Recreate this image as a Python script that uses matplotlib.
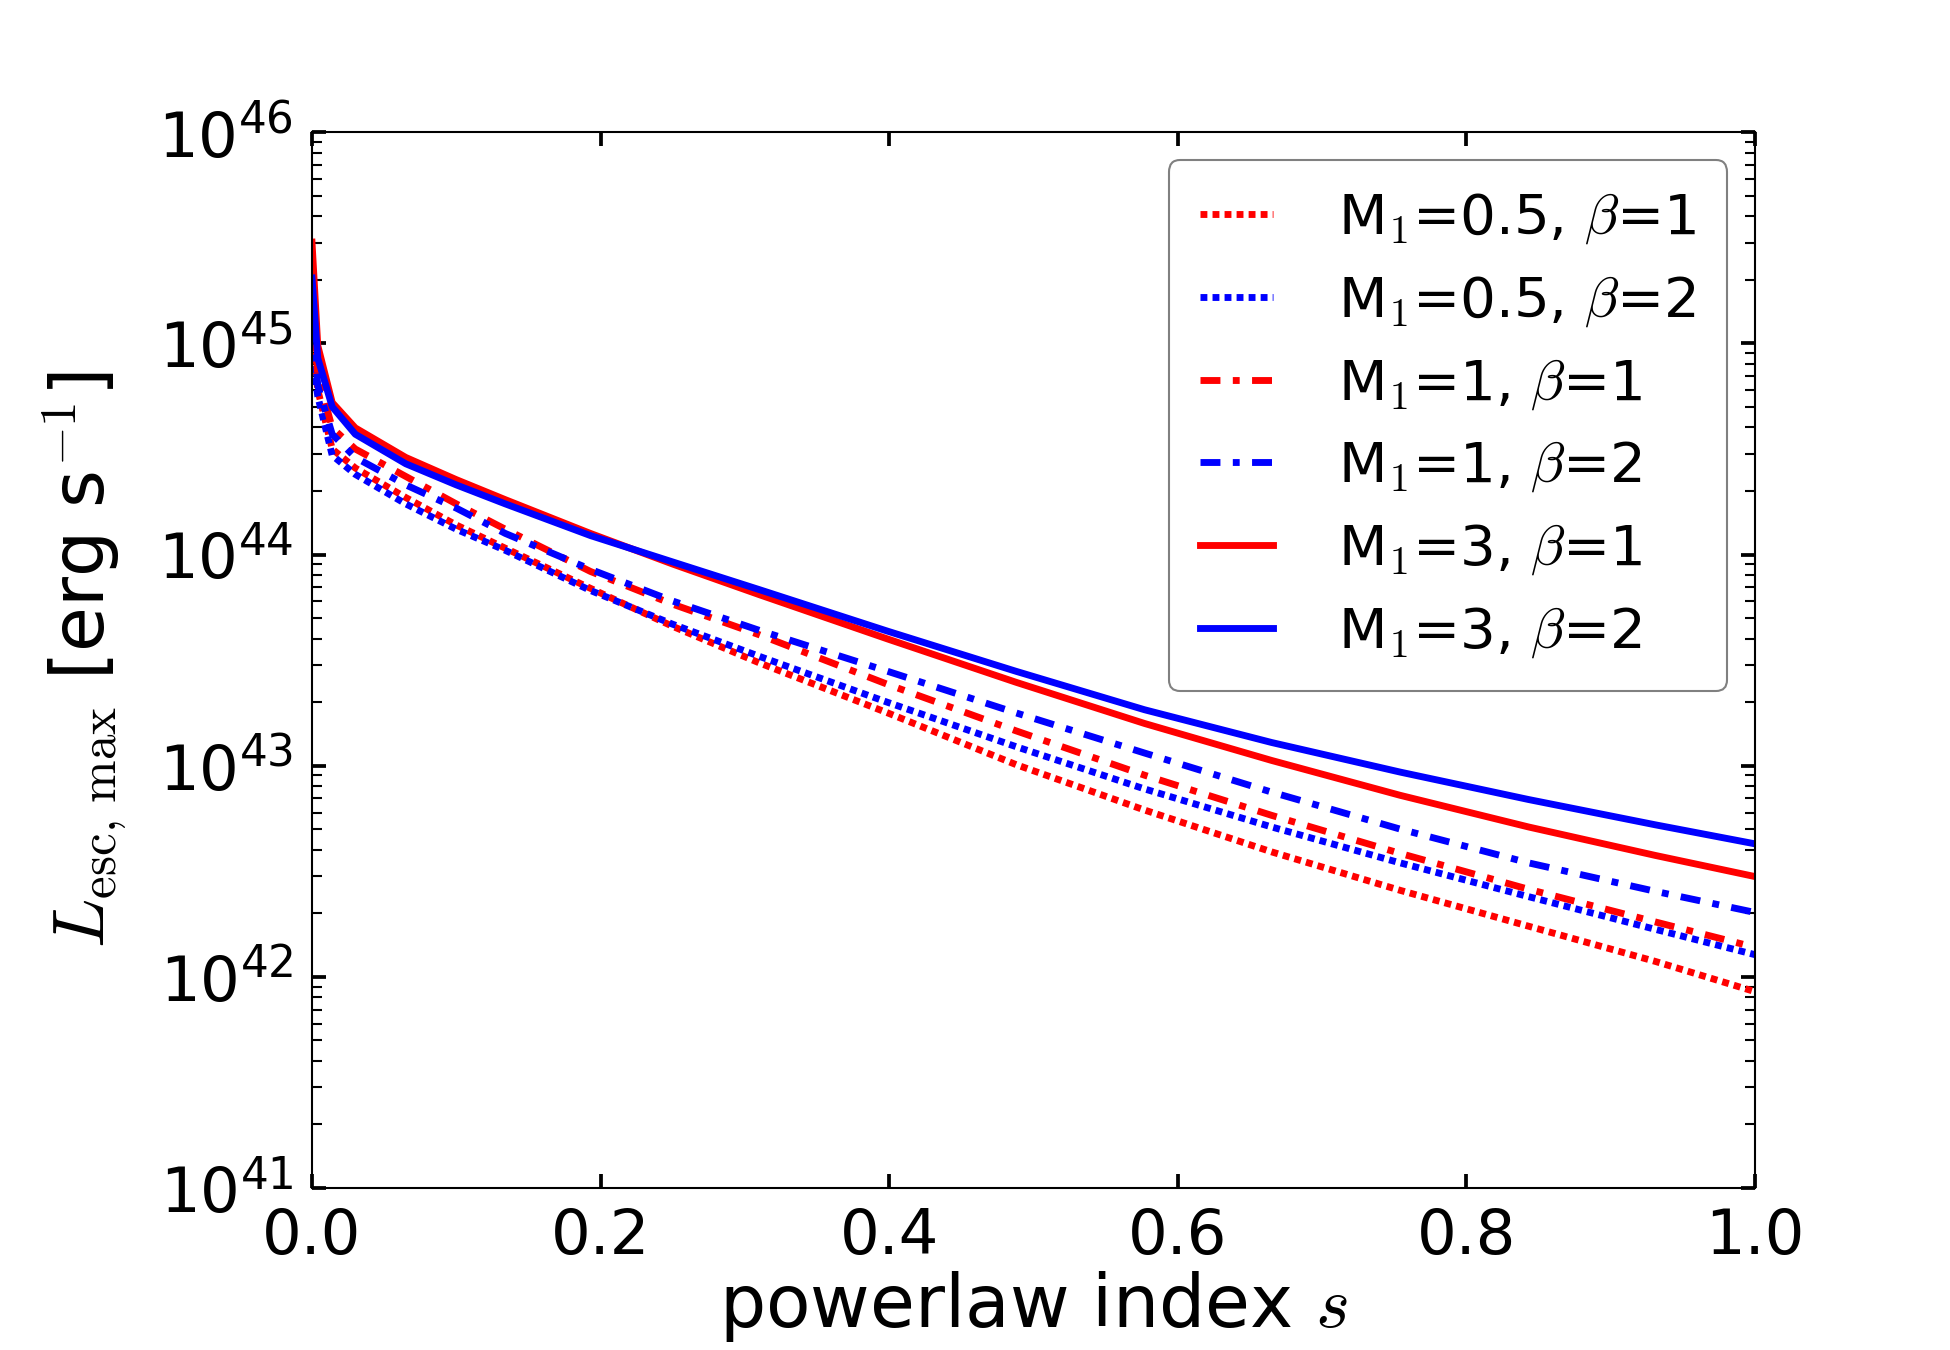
import numpy as np
import matplotlib
matplotlib.use('Agg')
import matplotlib.pyplot as plt

plt.rcParams['mathtext.fontset'] = 'cm'
plt.rcParams['font.family'] = 'DejaVu Sans'

# powerlaw index s and log10 of L_esc,max
s = [0.0, 0.004, 0.014, 0.03, 0.065, 0.1, 0.134, 0.193, 0.25, 0.31, 0.399,
     0.488, 0.577, 0.665, 0.754, 0.843, 0.931, 1.0]
logL_m05_b1 = [45.05, 44.78, 44.50, 44.41, 44.27, 44.14, 44.03, 43.84, 43.66,
               43.487, 43.25, 43.005, 42.79, 42.592, 42.41, 42.24, 42.073,
               41.93]
logL_m05_b2 = [44.95, 44.75, 44.47, 44.38, 44.24, 44.12, 44.02, 43.83, 43.67,
               43.518, 43.30, 43.09, 42.89, 42.71, 42.54, 42.38, 42.225,
               42.105]
logL_m1_b1 = [45.20, 44.85, 44.60, 44.50, 44.37, 44.24, 44.12, 43.92, 43.765,
              43.62, 43.385, 43.165, 42.955, 42.765, 42.585, 42.415, 42.26,
              42.14]
logL_m1_b2 = [45.10, 44.80, 44.57, 44.46, 44.33, 44.22, 44.10, 43.93, 43.78,
              43.641, 43.447, 43.25, 43.06, 42.875, 42.70, 42.54, 42.405,
              42.305]
logL_m3_b1 = [45.48, 44.99, 44.72, 44.60, 44.46, 44.355, 44.26, 44.10, 43.955,
              43.81, 43.60, 43.395, 43.20, 43.025, 42.86, 42.71, 42.575,
              42.475]
logL_m3_b2 = [45.31, 44.93, 44.70, 44.57, 44.43, 44.33, 44.24, 44.09, 43.965,
              43.834, 43.637, 43.447, 43.265, 43.11, 42.97, 42.84, 42.72,
              42.63]

labels = [r'M$_1$=0.5, $\beta$=1', r'M$_1$=0.5, $\beta$=2',
          r'M$_1$=1, $\beta$=1', r'M$_1$=1, $\beta$=2',
          r'M$_1$=3, $\beta$=1', r'M$_1$=3, $\beta$=2']
series = [logL_m05_b1, logL_m05_b2, logL_m1_b1, logL_m1_b2,
          logL_m3_b1, logL_m3_b2]
colors = ['red', 'blue'] * 3
dot = (1.0, 0.75)
dashdot = (2.9, 1.8, 1.0, 1.8)
styles = [dot, dot, dashdot, dashdot, None, None]

fig = plt.figure(figsize=(13, 9), dpi=150)
ax = fig.add_axes([0.16, 0.12, 0.74, 0.782])

for logL, c, ds, lab in zip(series, colors, styles, labels):
    line, = ax.plot(s, 10 ** np.array(logL), color=c, lw=3.3, label=lab)
    if ds is not None:
        line.set_dashes(ds)

ax.set_yscale('log')
ax.set_xlim(0, 1)
ax.set_ylim(1e41, 1e46)
ax.set_xticks(np.arange(0, 1.01, 0.2))
ax.xaxis.set_major_formatter(plt.FormatStrFormatter('%.1f'))

ax.tick_params(which='both', direction='in', top=True, right=True)
ax.tick_params(which='major', length=6.7, width=1.8, labelsize=30, pad=9)
ax.tick_params(which='minor', length=4.8, width=1.0)
ax.tick_params(axis='x', which='minor', bottom=False, top=False)
for sp in ax.spines.values():
    sp.set_linewidth(1.0)

ax.set_xlabel(r'powerlaw index $s$', fontsize=35, labelpad=1)
ax.set_ylabel(r'$L_{\rm esc,\,max}$ [erg s$^{-1}$]', fontsize=35, labelpad=14)

leg = ax.legend(loc='upper right', fontsize=27, handlelength=1.3,
                handletextpad=1.15, labelspacing=0.5, borderpad=0.55,
                fancybox=True, framealpha=1.0, edgecolor='0.5')
leg.get_frame().set_linewidth(1.0)

fig.savefig('out.png', dpi=150)
